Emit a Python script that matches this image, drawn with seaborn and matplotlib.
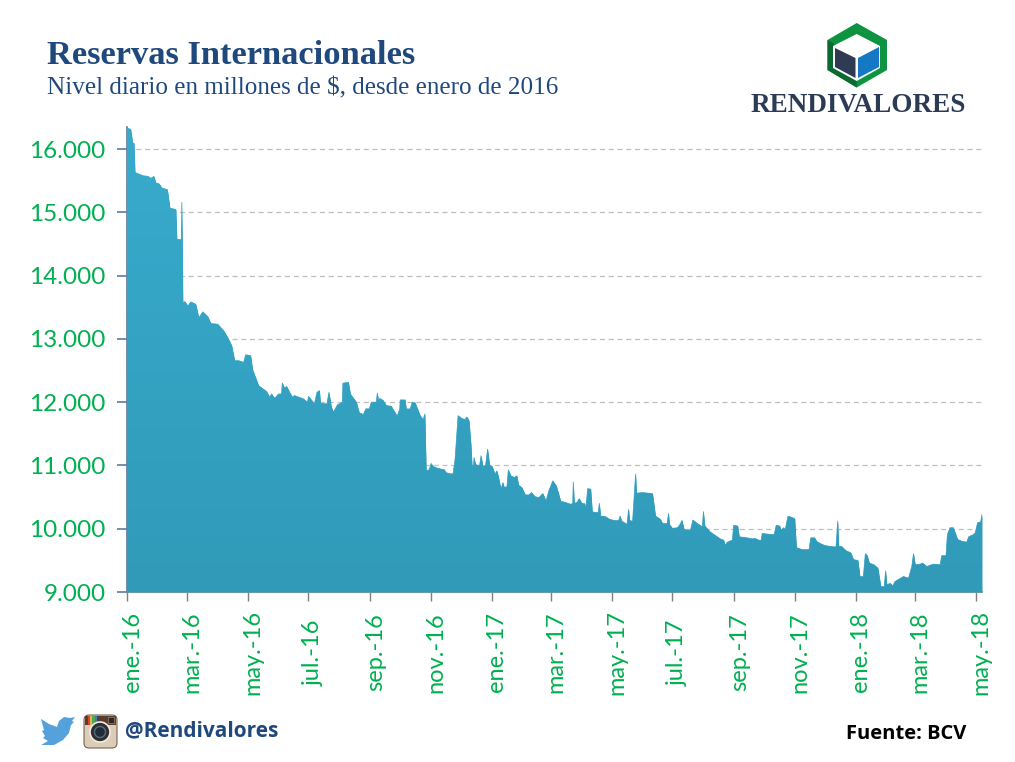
import numpy as np
import pandas as pd
import matplotlib
matplotlib.use("Agg")
import matplotlib.pyplot as plt
import matplotlib.dates as mdates
from matplotlib.patches import Polygon, FancyBboxPatch, Circle, Rectangle
from matplotlib.transforms import ScaledTranslation
import seaborn as sns

# ====== Datos ======
# dias desde el 1 de enero de 2016
dias = [0, 3.7, 5.7, 7, 8, 16, 21, 24, 27, 29, 32, 35, 40.5, 43, 49, 50, 54.5, 55, 56, 58, 61, 64, 69, 72, 76, 81, 84, 91,
        97, 101, 105, 108, 112, 117, 119, 124, 126, 132, 140, 143, 145, 148, 152, 155, 155.7, 158, 160, 165.7, 168, 177,
        181, 182, 188, 190.5, 193, 194, 200.5, 202.5, 205, 207, 211, 216, 216.5, 222, 224, 230, 233, 237, 239.5, 243,
        245, 250, 251, 252.5, 253.5, 257, 260, 265, 271, 273.5, 274, 279, 280, 284, 286, 289, 294, 297, 298.7, 300,
        303, 305, 307, 312, 318.5, 319.6, 324, 327, 329, 332, 335.5, 339, 340.8, 343, 345, 346, 347.5, 348, 349.5, 353.5,
        355, 357, 359.6, 361.6, 363.6, 366.3, 369, 371, 373, 375, 377, 378, 381, 382.4, 385, 388.4, 391, 392.7, 396,
        399.4, 403, 405.7, 409, 413, 417, 420.2, 423, 427, 430.5, 433, 435, 438, 445, 447, 447.5, 448.6, 451, 453.6,
        456, 459, 460, 462, 465, 466.6, 472.6, 473.6, 475, 480, 484, 488, 493, 494.5, 496, 501.4, 503, 504, 507, 510,
        511, 516.5, 527, 530, 535, 537, 541.6, 543, 544, 547, 552, 554.6, 556.6, 558.6, 565, 567.5, 571.7, 575, 577, 578,
        579.5, 585, 590, 595, 598.4, 600, 601.8, 607, 608.4, 612.4, 614, 620, 626.8, 630, 633.6, 636, 637, 645, 649,
        651, 654.6, 656, 658.6, 660, 662.7, 664.7, 667, 669.6, 671.3, 677, 684, 685.6, 689.6, 692, 699, 705.6, 711,
        712.7, 713.7, 716.4, 721, 726, 728.6, 733, 735, 738.4, 740.4, 742.4, 744.4, 749, 753, 756, 759.4, 760.7, 762,
        765.4, 768, 770, 778.7, 783.7, 787, 788.7, 790.4, 795.4, 798, 802, 808.7, 815.4, 817, 821.3, 822.7, 825.3,
        828.7, 833, 837, 842, 844, 849, 850.6, 853, 856, 857.4]
reservas = [16330, 16315, 16095, 16095, 15632, 15580, 15570, 15538, 15570, 15465, 15454, 15386, 15360, 15070, 15045,
            14572, 14572, 15160, 13575, 13590, 13520, 13585, 13548, 13333, 13428, 13354, 13244, 13233, 13128, 13023,
            12892, 12656, 12656, 12630, 12750, 12735, 12514, 12262, 12168, 12080, 12130, 12062, 12130, 12130, 12304,
            12220, 12250, 12080, 12105, 12052, 12000, 12094, 11973, 12157, 12183, 11984, 11973, 12157, 11920, 11842,
            11958, 12000, 12300, 12315, 12130, 12000, 11832, 11806, 11895, 11895, 12000, 12000, 12147, 12000, 12062,
            12026, 11947, 11936, 11780, 11895, 12036, 12036, 11894, 11894, 12000, 11990, 11788, 11725, 11815, 10921,
            10931, 11032, 10984, 10953, 10931, 10889, 10868, 10868, 11100, 11788, 11746, 11725, 11767, 11709, 11312,
            10995, 11005, 11127, 11016, 10995, 11154, 10984, 11005, 11259, 11005, 10984, 10863, 10915, 10783, 10625,
            10730, 10660, 10660, 10931, 10836, 10810, 10836, 10688, 10651, 10535, 10535, 10572, 10508, 10492, 10556,
            10440, 10598, 10757, 10678, 10545, 10429, 10424, 10387, 10400, 10741, 10402, 10413, 10476, 10402, 10397,
            10307, 10635, 10625, 10265, 10254, 10402, 10201, 10190, 10149, 10133, 10127, 10201, 10122, 10069, 10307,
            10133, 10117, 10863, 10561, 10572, 10556, 10201, 10149, 10085, 10080, 10244, 10069, 10006, 10016, 10069,
            10133, 9990, 9974, 10138, 10085, 10053, 10032, 10271, 10043, 9947, 9894, 9840, 9819, 9734, 9787, 9819,
            10053, 10043, 9872, 9862, 9840, 9846, 9819, 9819, 9926, 9910, 9910, 10053, 10043, 9979, 10016, 9979, 10192,
            10192, 10176, 10160, 9702, 9670, 9670, 9856, 9856, 9793, 9739, 9718, 9713, 10122, 9723, 9723, 9654, 9617,
            9511, 9500, 9245, 9245, 9606, 9574, 9457, 9431, 9378, 9085, 9085, 9335, 9112, 9138, 9096, 9165, 9245, 9218,
            9404, 9606, 9431, 9441, 9457, 9404, 9441, 9431, 9574, 9574, 9910, 10016, 10016, 9830, 9803, 9787, 9872,
            9910, 9936, 10096, 10106, 10229]
y_ticks = [9000, 10000, 11000, 12000, 13000, 14000, 15000, 16000]
meses = ["2016-01-01", "2016-03-01", "2016-05-01", "2016-07-01", "2016-09-01", "2016-11-01", "2017-01-01",
         "2017-03-01", "2017-05-01", "2017-07-01", "2017-09-01", "2017-11-01", "2018-01-01", "2018-03-01", "2018-05-01"]
mes_labels = ["ene.-16", "mar.-16", "may.-16", "jul.-16", "sep.-16", "nov.-16", "ene.-17", "mar.-17", "may.-17",
              "jul.-17", "sep.-17", "nov.-17", "ene.-18", "mar.-18", "may.-18"]

df = pd.DataFrame({"fecha": pd.Timestamp("2016-01-01") + pd.to_timedelta(dias, unit="D"), "reservas": reservas})

AZUL = "#1f497d"
VERDE = "#00b050"
W, H = 1015, 762

sns.set_theme(style="white")
plt.rcParams["font.family"] = ["Lato", "DejaVu Sans"]

fig = plt.figure(figsize=(W / 100, H / 100), dpi=100, facecolor="white")
# ejes en pixeles del original: x 127-982, y 127-592
ax = fig.add_axes([127 / W, 1 - 592 / H, (982 - 127) / W, (592 - 127) / H])

sns.lineplot(data=df, x="fecha", y="reservas", ax=ax, color="#34a2c3", linewidth=0.5, zorder=3)
area = ax.fill_between(df["fecha"], df["reservas"], 9000, color="#34a2c3", linewidth=0, zorder=3)

# degradado suave de arriba a abajo, recortado al area
x0 = mdates.date2num(df["fecha"].iloc[0])
x1 = mdates.date2num(df["fecha"].iloc[-1])
grad = np.linspace(0, 1, 256).reshape(-1, 1)
cmap = matplotlib.colors.LinearSegmentedColormap.from_list("g", ["#38abcd", "#319ab9"])
img = ax.imshow(grad, extent=[x0, x1, 9000, 16350], aspect="auto", cmap=cmap, origin="upper", zorder=3.5)
img.set_clip_path(area.get_paths()[0], transform=ax.transData)

ax.set_xlim(x0, x1)
ax.set_ylim(9000, 16350)
ax.set_xlabel("")
ax.set_ylabel("")

ax.set_yticks(y_ticks)
ax.set_yticklabels([f"{v:,}".replace(",", ".") for v in y_ticks], color=VERDE, fontsize=17.5)
ax.set_xticks(mdates.date2num(pd.to_datetime(meses)))
ax.set_xticklabels(mes_labels, color=VERDE, fontsize=17, rotation=90, va="center", ha="center")

ax.tick_params(axis="y", length=7, width=1.2, color="#5b7c99", pad=8.5, left=True)
ax.tick_params(axis="x", length=6.5, width=1, color="#7f7f7f", pad=37, bottom=True)
ax.grid(axis="y", color="#bdbdbd", linestyle=(0, (4, 3)), linewidth=0.9, zorder=1)
ax.set_axisbelow(True)

# las etiquetas de meses van algo a la derecha de su marca
for lab in ax.get_xticklabels():
    lab.set_transform(lab.get_transform() + ScaledTranslation(0.05, 0, fig.dpi_scale_trans))

sns.despine(ax=ax)
ax.spines["left"].set_color("#5b7c99")
ax.spines["left"].set_linewidth(1.2)
ax.spines["bottom"].set_color("#7f7f7f")
ax.spines["bottom"].set_linewidth(1.2)

# ====== Capa en pixeles: titulos, logo, iconos ======
ov = fig.add_axes([0, 0, 1, 1], facecolor="none")
ov.set_xlim(0, W)
ov.set_ylim(H, 0)
ov.axis("off")

ov.text(47, 55, "Reservas Internacionales", color=AZUL, fontsize=24.8, fontweight="bold",
        family="Liberation Serif", va="center")
ov.text(47, 88, "Nivel diario en millones de $, desde enero de 2016", color=AZUL, fontsize=18.1,
        family="Liberation Serif", va="center")

# logo
ov.add_patch(Polygon([(856.7, 23), (887, 40), (887, 70), (856.7, 87.5), (827.5, 70), (827.5, 40)], fc="#0e9440", ec="none"))
ov.add_patch(Polygon([(827.5, 40), (834, 44), (834, 67), (856.7, 80), (856.7, 87.5), (827.5, 70)], fc="#0b6a2f", ec="none"))
ov.add_patch(Polygon([(856.7, 34), (880, 46), (880, 68), (856.7, 81), (833, 68), (833, 46)], fc="white", ec="none"))
ov.add_patch(Polygon([(835, 48), (855.5, 58), (855.5, 78), (835, 67)], fc="#2e3b52", ec="none"))
ov.add_patch(Polygon([(858, 58), (879, 47), (879, 67), (858, 78)], fc="#1478c4", ec="none"))
ov.text(858, 106, "RENDIVALORES", color="#2b3a55", fontsize=19.5, fontweight="bold",
        family="Liberation Serif", ha="center", va="center")

# twitter
ov.add_patch(Polygon([(41, 719), (49, 724), (57, 727), (59, 721), (64, 717), (70, 718), (75, 717), (72, 721), (74, 722),
                      (71, 725), (69, 733), (63, 740), (54, 745), (41, 745), (48, 741), (43, 738), (45, 736), (42, 731), (44, 730)],
                     fc="#55a1dc", ec="none"))
# instagram
ov.add_patch(FancyBboxPatch((84, 715), 33, 33, boxstyle="round,pad=0,rounding_size=5", fc="#dccdb8", ec="#7a6250", lw=0.8))
ov.add_patch(Rectangle((85, 716), 31, 9, fc="#5a3d2e", ec="none"))
for i, c in enumerate(["#d8433a", "#e8b93a", "#4fa85a", "#3f7fc4"]):
    ov.add_patch(Rectangle((88 + i * 2.2, 716), 2.2, 9, fc=c, ec="none"))
ov.add_patch(Rectangle((108, 717), 6, 6, fc="#2e2622", ec="#9a8a7a", lw=0.5))
ov.add_patch(Circle((100, 732), 10, fc="#2f2f2f", ec="#f2ede4", lw=1.2))
ov.add_patch(Circle((100, 732), 5.5, fc="#1d2b3a", ec="#5a6a7a", lw=1))
ov.text(125, 731, "@Rendivalores", color=AZUL, fontsize=15, fontweight="bold", va="center",
        family="Open Sans")
ov.text(846, 734, "Fuente: BCV", color="black", fontsize=14.5, fontweight="bold", va="center", family="Open Sans")

fig.savefig("out.png", dpi=100)
